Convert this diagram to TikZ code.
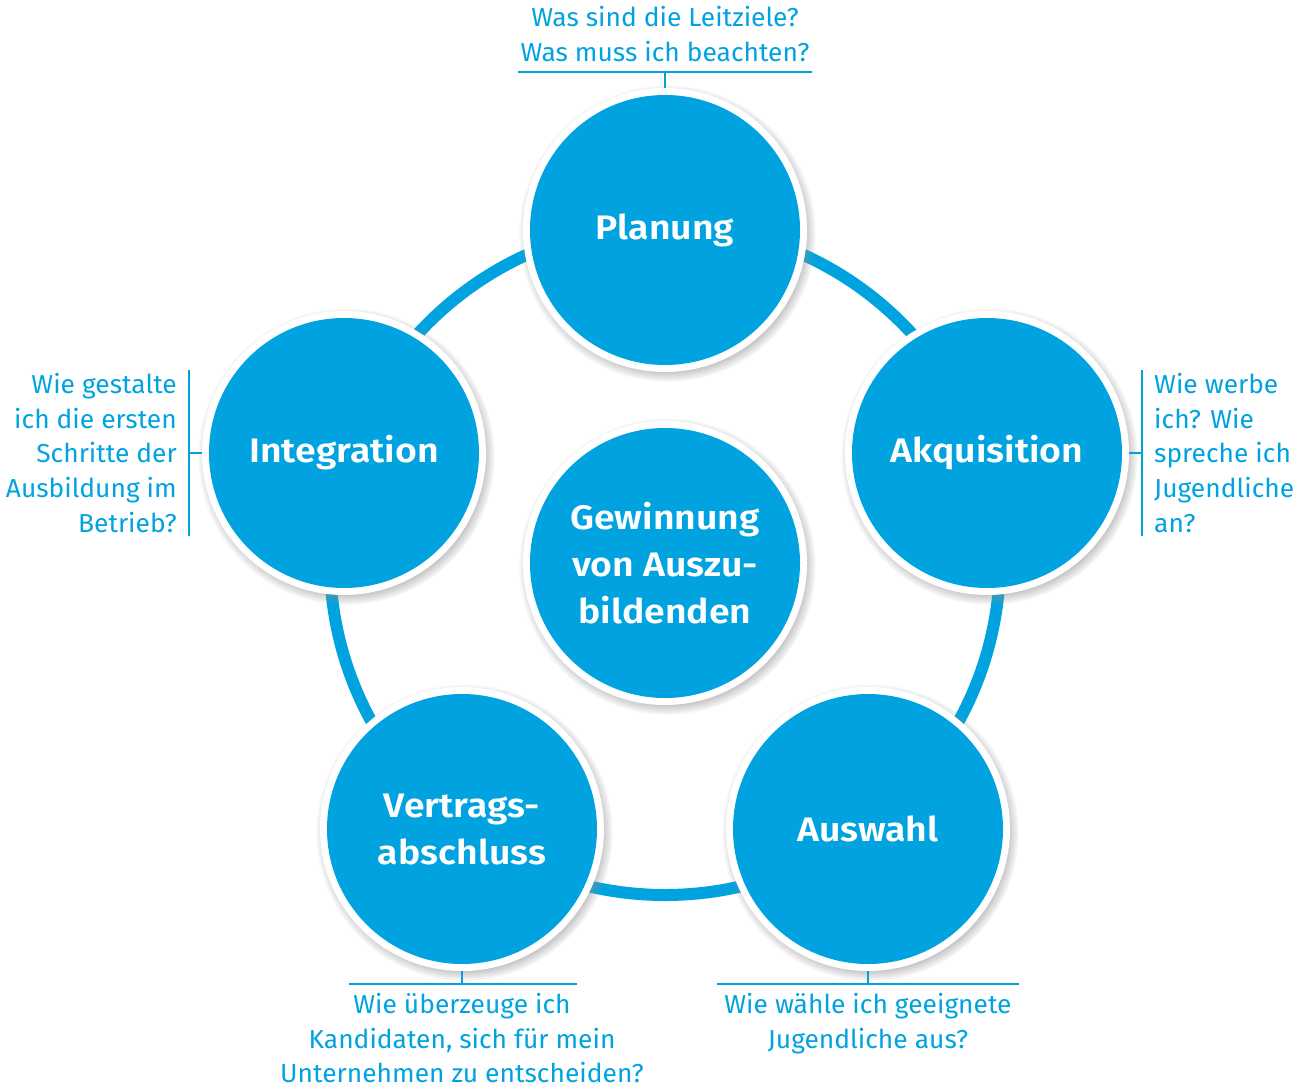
\documentclass[tikz,border=0pt]{standalone}
\usepackage{fontspec}
\setmainfont{Fira Sans}[FakeStretch=1.015, BoldFont={Fira Sans SemiBold}, BoldFeatures={FakeStretch=1.1}]
\usetikzlibrary{positioning,shadows}
\definecolor{azubiblue}{RGB}{0,163,224}

\begin{document}
\begin{tikzpicture}[
    x=1pt, y=-1pt,
    stage/.style = {circle, minimum size=270pt, inner sep=0pt, outer sep=0pt,
      circular drop shadow={shadow scale=1.1, shadow xshift=2pt, shadow yshift=-3pt, fill=black!45},
      preaction={draw=white, line width=14pt},
      fill=azubiblue, text=white, align=center, font=\bfseries\fontsize{34}{47}\selectfont},
    ask/.style = {text=azubiblue, font=\fontsize{26}{34.6}\selectfont, inner sep=0pt},
    rule/.style = {draw=azubiblue, line width=1.2pt},
    ring/.style = {draw=azubiblue, line width=12pt}
  ]
  \useasboundingbox (0,0) rectangle (1309,1087);
  \coordinate (hub) at (665,560);
  \draw[ring] (hub) circle[radius=335pt];

  \node[stage] (plan) at (665,230) {Planung};
  \node[stage] (akq) at (987,453) {Akquisition};
  \node[stage] (ausw) at (868,829) {Auswahl};
  \node[stage] (vertrag) at (462,829) {Vertrags-\\abschluss};
  \node[stage] (integ) at (344,453) {Integration};
  \node[stage] (core) at (665,563) {Gewinnung\\von Auszu-\\bildenden};

  \coordinate (planbar) at ([yshift=23pt]plan.north);
  \coordinate (akqbar) at ([xshift=20pt]akq.east);
  \coordinate (auswbar) at ([yshift=-20pt]ausw.south);
  \coordinate (vertragbar) at ([yshift=-20pt]vertrag.south);
  \coordinate (integbar) at ([xshift=-20pt]integ.west);

  \draw[rule] ([yshift=7pt]plan.north) -- (planbar);
  \draw[rule] ([xshift=-147pt]planbar) -- ([xshift=147pt]planbar);
  \draw[rule] ([xshift=7pt]akq.east) -- (akqbar);
  \draw[rule] ([yshift=83pt]akqbar) -- ([yshift=-83pt]akqbar);
  \draw[rule] ([yshift=-7pt]ausw.south) -- (auswbar);
  \draw[rule] ([xshift=-151pt]auswbar) -- ([xshift=151pt]auswbar);
  \draw[rule] ([yshift=-7pt]vertrag.south) -- (vertragbar);
  \draw[rule] ([xshift=-113pt]vertragbar) -- ([xshift=115pt]vertragbar);
  \draw[rule] ([xshift=-7pt]integ.west) -- (integbar);
  \draw[rule] ([yshift=83pt]integbar) -- ([yshift=-83pt]integbar);

  \node[ask, align=center, above=10pt of planbar] (qplan) {Was sind die Leitziele?\\Was muss ich beachten?};
  \node[ask, align=left, right=12pt of akqbar] (qakq) {Wie werbe\\ich? Wie\\spreche ich\\Jugendliche\\an?};
  \node[ask, align=center, below=9pt of auswbar] (qausw) {Wie wähle ich geeignete\\Jugendliche aus?};
  \node[ask, align=center, below=9pt of vertragbar] (qvertrag) {Wie überzeuge ich\\Kandidaten, sich für mein\\Unternehmen zu entscheiden?};
  \node[ask, align=right, left=12pt of integbar] (qinteg) {Wie gestalte\\ich die ersten\\Schritte der\\Ausbildung im\\Betrieb?};
\end{tikzpicture}
\end{document}
